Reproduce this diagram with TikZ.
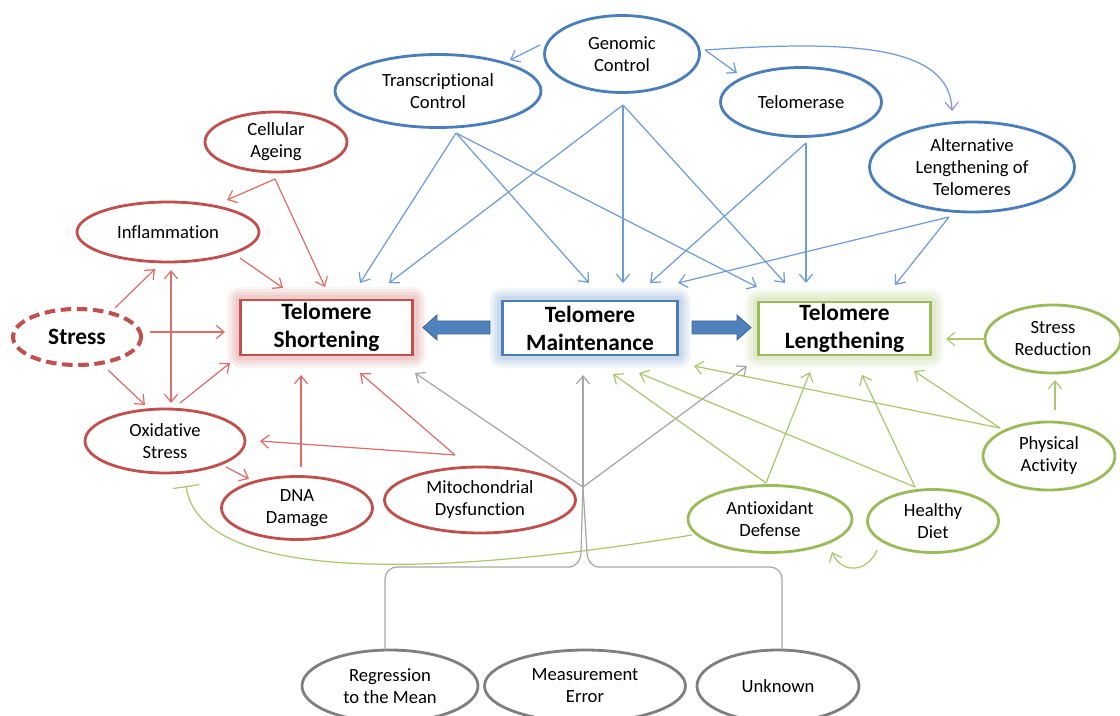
\documentclass[tikz,border=0pt]{standalone}
\usepackage{fontspec}
\setmainfont[Ligatures={NoCommon}]{Carlito}
\usetikzlibrary{arrows.meta,shapes.geometric}
\definecolor{cred}{HTML}{C0504D}
\definecolor{credl}{HTML}{DA6F6C}
\definecolor{cblue}{HTML}{4A7EBB}
\definecolor{cbluel}{HTML}{6E9DD6}
\definecolor{cgreen}{HTML}{9BBB59}
\definecolor{cgreenl}{HTML}{A9C86E}
\definecolor{cgray}{HTML}{7F7F7F}
\definecolor{cgrayl}{HTML}{A6A6A6}
\definecolor{cbarrow}{HTML}{4F81BD}
\definecolor{cbarrowd}{HTML}{3A6496}
\definecolor{cviolet}{HTML}{A58BC9}
\tikzset{
  ell/.style={ellipse, line width=1.6pt, inner sep=0pt, align=center, text=black,
    font=\fontsize{10.6}{12.5}\selectfont},
  redell/.style={ell, draw=cred},
  blueell/.style={ell, draw=cblue},
  greenell/.style={ell, draw=cgreen},
  grayell/.style={ell, draw=cgray},
  bigbox/.style={rectangle, fill=white, line width=1.7pt, inner sep=0pt, align=center,
    font=\fontsize{13.3}{16}\selectfont\bfseries, text=black},
  glowbox/.style={bigbox, draw=#1,
    preaction={draw=#1!60, line width=15pt, opacity=0.10, line join=round},
    preaction={draw=#1!60, line width=12pt, opacity=0.12, line join=round},
    preaction={draw=#1!60, line width=9pt, opacity=0.16, line join=round},
    preaction={draw=#1!60, line width=6pt, opacity=0.22, line join=round}},
  tip/.style={-{Straight Barb[length=4.5pt,width=7.5pt]}},
  redc/.style={tip, draw=credl, line width=0.7pt},
  bluec/.style={tip, draw=cbluel, line width=0.7pt},
  greenc/.style={tip, draw=cgreenl, line width=0.7pt},
  grayc/.style={tip, draw=cgrayl, line width=0.7pt},
  grayl/.style={draw=cgrayl, line width=0.7pt},
  blockarrow/.style={fill=cbarrow, draw=cbarrowd, line width=0.5pt}
}
\begin{document}
\begin{tikzpicture}[x=0.02cm, y=-0.02cm]
\useasboundingbox (0,0) rectangle (1120,716);
\clip (0,0) rectangle (1120,716);

% ---------- blue ellipses ----------
\node[blueell, minimum width=3.1cm, minimum height=1.54cm] (gen) at (622,54) {Genomic\\Control};
\node[blueell, minimum width=4.12cm, minimum height=1.46cm] (tc) at (438,91) {Transcriptional\\Control};
\node[blueell, minimum width=3.22cm, minimum height=1.38cm] (tel) at (801,102) {Telomerase};
\node[blueell, minimum width=4.1cm, minimum height=1.8cm] (alt) at (972,167) {Alternative\\Lengthening of\\Telomeres};

% ---------- red ellipses ----------
\node[redell, minimum width=2.84cm, minimum height=1.2cm] (ca) at (276,142) {Cellular\\Ageing};
\node[redell, minimum width=3.64cm, minimum height=1.2cm] (inf) at (168,232) {Inflammation};
\node[ell, draw=cred, line width=2.3pt, dash pattern=on 6pt off 3.2pt, minimum width=2.56cm, minimum height=1.12cm,
  font=\fontsize{13.3}{16}\selectfont\bfseries] (st) at (77,337) {Stress};
\node[redell, minimum width=3.2cm, minimum height=1.28cm] (ox) at (165,441) {Oxidative\\Stress};
\node[redell, minimum width=3.02cm, minimum height=1.26cm] (dna) at (297,508) {DNA\\Damage};
\node[redell, minimum width=3.82cm, minimum height=1.32cm] (mito) at (480,500) {Mitochondrial\\Dysfunction};

% ---------- green ellipses ----------
\node[greenell, minimum width=2.72cm, minimum height=1.36cm] (sr) at (1053,339) {Stress\\Reduction};
\node[greenell, minimum width=2.64cm, minimum height=1.36cm] (pa) at (1049,456) {Physical\\Activity};
\node[greenell, minimum width=3.28cm, minimum height=1.34cm] (ad) at (770,519) {Antioxidant\\Defense};
\node[greenell, minimum width=2.62cm, minimum height=1.26cm] (hd) at (933,521) {Healthy\\Diet};

% ---------- gray ellipses ----------
\node[grayell, minimum width=3.52cm, minimum height=1.44cm] (reg) at (390,686) {Regression\\to the Mean};
\node[grayell, minimum width=4.02cm, minimum height=1.44cm] (me) at (585,686) {Measurement\\Error};
\node[grayell, minimum width=3.24cm, minimum height=1.44cm] (unk) at (778,686) {Unknown};

% ---------- boxes ----------
\node[glowbox=cred, minimum width=3.46cm, minimum height=1.1cm] (sh) at (326.5,327.5) {Telomere\\Shortening};
\node[glowbox=cblue, minimum width=3.52cm, minimum height=1.08cm] (ma) at (590,328) {Telomere\\Maintenance};
\node[glowbox=cgreen, minimum width=3.46cm, minimum height=1.06cm] (le) at (844.5,328.5) {Telomere\\Lengthening};

% ---------- block arrows ----------
\draw[blockarrow] (490,321) -- (437,321) -- (437,315) -- (423,327.5) -- (437,340) -- (437,334) -- (490,334) -- cycle;
\draw[blockarrow] (692,321) -- (737,321) -- (737,315) -- (751,327.5) -- (737,340) -- (737,334) -- (692,334) -- cycle;

% ---------- connector end points ----------
\coordinate (tcS) at (456,133);
\coordinate (genS) at (623,105);
\coordinate (telS) at (806,143);
\coordinate (altS) at (949,217);
\coordinate (genL) at (540,45);
\coordinate (genR) at (705,50);
\coordinate (tcT) at (510,60);
\coordinate (telT) at (737,73);
\coordinate (altT) at (952,111);
\coordinate (sh1) at (360,283);
\coordinate (sh2) at (389,283);
\coordinate (ma1) at (589,283);
\coordinate (ma2) at (623,283);
\coordinate (ma3) at (650,283);
\coordinate (ma4) at (678,283);
\coordinate (le1) at (757,287);
\coordinate (le2) at (785,283);
\coordinate (le3) at (806,283);
\coordinate (le4) at (895,285);

% ---------- blue connectors ----------
\draw[bluec] (genL) -- (tcT);
\draw[bluec] (genR) -- (telT);
\draw[draw=cbluel, line width=0.7pt, -{Straight Barb[length=4.5pt,width=7.5pt,color=cviolet]}]
  (genR) .. controls (850,40) and (950,45) .. (altT);
\draw[bluec] (tcS) -- (sh1);
\draw[bluec] (genS) -- (sh2);
\draw[bluec] (tcS) -- (ma1);
\draw[bluec] (genS) -- (ma2);
\draw[bluec] (telS) -- (ma3);
\draw[bluec] (altS) -- (ma4);
\draw[bluec] (tcS) -- (le1);
\draw[bluec] (genS) -- (le2);
\draw[bluec] (telS) -- (le3);
\draw[bluec] (altS) -- (le4);

% ---------- red connectors ----------
\coordinate (caS) at (275,179);
\coordinate (infT) at (227,200);
\coordinate (shA) at (325,287);
\coordinate (infS) at (240,258);
\coordinate (shB) at (283,288);
\coordinate (stA) at (115,308);
\coordinate (infB) at (155,269);
\coordinate (infC) at (171,270);
\coordinate (oxA) at (171,403);
\coordinate (stB) at (150,332);
\coordinate (shC) at (225,332);
\coordinate (stC) at (108,370);
\coordinate (oxB) at (145,405);
\coordinate (oxS) at (180,403);
\coordinate (shD) at (230,363);
\coordinate (oxE) at (226,467);
\coordinate (dnaT) at (249,479);
\coordinate (dnaS) at (301,467);
\coordinate (shE) at (301,375);
\coordinate (mitoS) at (455,455);
\coordinate (shF) at (360,373);
\coordinate (oxF) at (260,441);
\draw[redc] (caS) -- (infT);
\draw[redc] (caS) -- (shA);
\draw[redc] (infS) -- (shB);
\draw[redc] (stA) -- (infB);
\draw[redc, {Straight Barb[length=4.5pt,width=7.5pt]}-{Straight Barb[length=4.5pt,width=7.5pt]}] (infC) -- (oxA);
\draw[redc] (stB) -- (shC);
\draw[redc] (stC) -- (oxB);
\draw[redc] (oxS) -- (shD);
\draw[redc] (oxE) -- (dnaT);
\draw[redc] (dnaS) -- (shE);
\draw[redc] (mitoS) -- (shF);
\draw[redc] (mitoS) -- (oxF);

% ---------- gray connectors ----------
\coordinate (jn) at (583,487);
\coordinate (shG) at (415,373);
\coordinate (maG) at (583,375);
\coordinate (leG) at (747,366);
\coordinate (regT) at (385,650);
\coordinate (unkT) at (782,650);
\draw[grayc] (jn) -- (shG);
\draw[grayc] (jn) -- (maG);
\draw[grayc] (jn) -- (leG);
\draw[grayl] (jn) -- (581,552) to[out=-90,in=0] (569,567) -- (397,567) to[out=180,in=90] (385,579) -- (regT);
\draw[grayl] (jn) -- (587,552) to[out=-90,in=180] (599,567) -- (770,567) to[out=0,in=90] (782,579) -- (unkT);

% ---------- green connectors ----------
\coordinate (srS) at (985,339);
\coordinate (leR) at (946,339);
\coordinate (paT) at (1055,410);
\coordinate (srB) at (1055,380);
\coordinate (paS) at (1000,428);
\coordinate (leP) at (914,371);
\coordinate (maP) at (694,366);
\coordinate (hdS) at (915,487);
\coordinate (leH) at (862,375);
\coordinate (maH) at (639,373);
\coordinate (adS) at (766,483);
\coordinate (leA) at (810,372);
\coordinate (maA) at (613,374);
\coordinate (hdC) at (877,550);
\coordinate (adT) at (832,552);
\coordinate (adW) at (692,535);
\coordinate (oxT) at (186,486);
\draw[greenc] (srS) -- (leR);
\draw[greenc] (paT) -- (srB);
\draw[greenc] (paS) -- (leP);
\draw[greenc] (paS) -- (maP);
\draw[greenc] (hdS) -- (leH);
\draw[greenc] (hdS) -- (maH);
\draw[greenc] (adS) -- (leA);
\draw[greenc] (adS) -- (maA);
\draw[greenc] (hdC) .. controls (868,572) and (842,575) .. (adT);
\draw[draw=cgreenl, line width=0.7pt, -{Bar[width=15pt]}] (adW) .. controls (420,580) and (200,580) .. (oxT);
\end{tikzpicture}
\end{document}
